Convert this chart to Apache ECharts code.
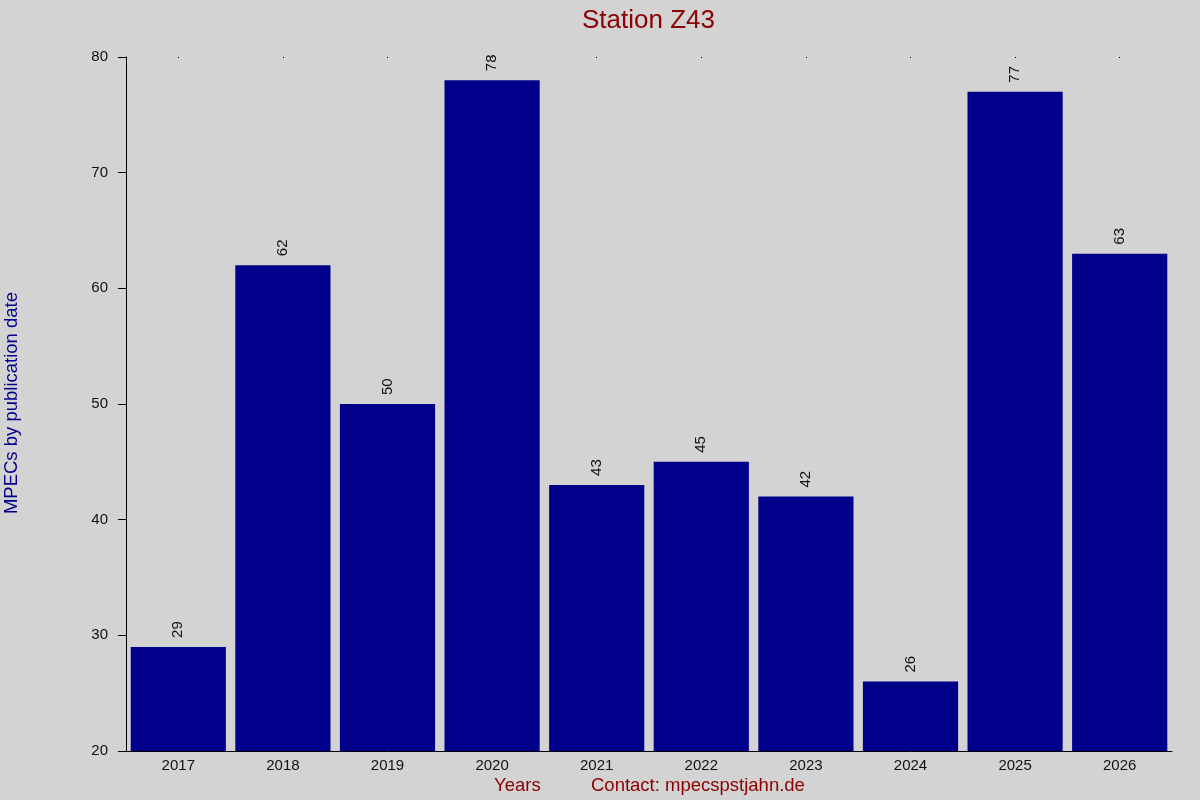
<!DOCTYPE html>
<html>
<head>
<meta charset="utf-8">
<script src="https://cdn.jsdelivr.net/npm/echarts@6/dist/echarts.min.js"></script>
<style>
  html, body { margin: 0; padding: 0; background: #d3d3d3; }
  #chart { width: 1200px; height: 800px; }
</style>
</head>
<body>
<div id="chart"></div>
<script>
// data
var years = ['2017', '2018', '2019', '2020', '2021', '2022', '2023', '2024', '2025', '2026'];
var mpecs = [29, 62, 50, 78, 43, 45, 42, 26, 77, 63];
var yTicks = [20, 30, 40, 50, 60, 70, 80];

var font = 'Liberation Sans, Arial, sans-serif';
var chart = echarts.init(document.getElementById('chart'));

var option = {
  backgroundColor: '#d3d3d3',
  animation: false,
  title: {
    text: 'Station Z43',
    left: 577,
    top: 3,
    textStyle: { color: '#8b0000', fontSize: 26, fontWeight: 'normal', fontFamily: font }
  },
  grid: { left: 126, right: 28, top: 57, bottom: 49 },
  xAxis: [{
    type: 'category',
    data: years,
    axisLine: { lineStyle: { color: '#000', width: 1 } },
    axisTick: { show: false },
    axisLabel: { color: '#111', fontSize: 15, fontFamily: font, margin: 7 }
  }, {
    type: 'category',
    position: 'top',
    data: years,
    axisLine: { show: false },
    axisTick: { show: true, alignWithLabel: true, inside: true, length: 1, lineStyle: { color: '#000' } },
    axisLabel: { show: false }
  }],
  yAxis: {
    type: 'value',
    min: yTicks[0],
    max: yTicks[yTicks.length - 1],
    interval: 10,
    splitLine: { show: false },
    axisLine: { show: true, lineStyle: { color: '#000', width: 1 } },
    axisTick: { show: true, length: 8, lineStyle: { color: '#000' } },
    axisLabel: { color: '#111', fontSize: 15, fontFamily: font, margin: 18 }
  },
  series: [{
    type: 'bar',
    data: mpecs,
    barCategoryGap: '9%',
    itemStyle: { color: '#00008b' },
    label: {
      show: true,
      position: 'top',
      rotate: 90,
      align: 'left',
      verticalAlign: 'middle',
      distance: 8,
      offset: [1, 0],
      color: '#111',
      fontSize: 15,
      fontFamily: font
    }
  }],
  graphic: [{
    type: 'text',
    left: 2,
    top: 292,
    rotation: Math.PI / 2,
    style: {
      text: 'MPECs by publication date',
      fill: '#00008b',
      font: '18.5px ' + font
    }
  }, {
    type: 'text',
    left: 494,
    top: 776,
    style: { text: 'Years', fill: '#8b0000', font: '18.5px ' + font }
  }, {
    type: 'text',
    left: 591,
    top: 776,
    style: { text: 'Contact: mpecspstjahn.de', fill: '#8b0000', font: '18.5px ' + font }
  }]
};

chart.setOption(option);
</script>
</body>
</html>
